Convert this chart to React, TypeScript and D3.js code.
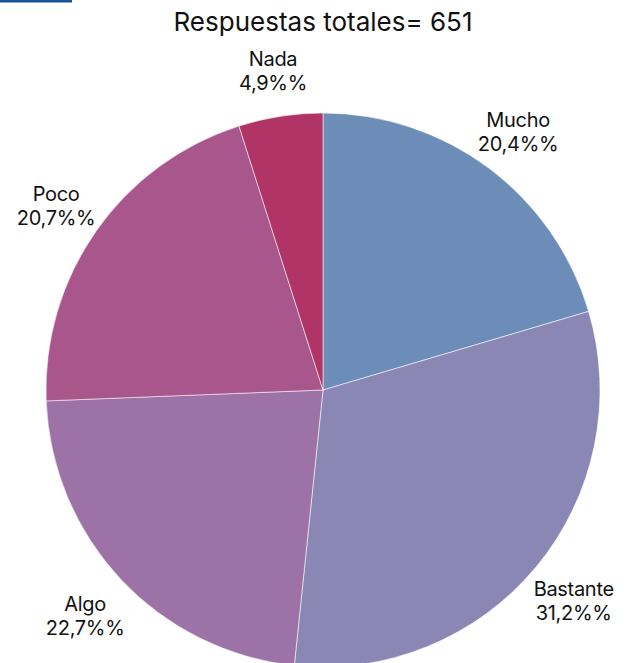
import React from "react";
import * as d3 from "d3";

const categories = ["Mucho", "Bastante", "Algo", "Poco", "Nada"];
const values = [20.4, 31.2, 22.7, 20.7, 4.9];
const labels = ["20,4%%", "31,2%%", "22,7%%", "20,7%%", "4,9%%"];
const colors = ["#6b8db7", "#8a87b5", "#9d73a7", "#a8568b", "#b03466"];
const title = "Respuestas totales= 651";

const W = 628;
const H = 663;
const cx = 323;
const cy = 390;
const R = 277;
const labelR = 326;

export default function App() {
  const pie = d3.pie<number>().sort(null).value((d) => d)(values);
  const arc = d3.arc<d3.PieArcDatum<number>>().innerRadius(0).outerRadius(R);
  const font = "Inter, 'DejaVu Sans', sans-serif";
  return (
    <svg
      width={W}
      height={H}
      style={{ position: "absolute", left: 0, top: 0, background: "#fff" }}
    >
      <rect x={0} y={0} width={72} height={2.5} fill="#1a4f9c" />
      <text
        x={cx}
        y={31}
        textAnchor="middle"
        fontFamily={font}
        fontSize={26}
        fill="#111"
      >
        {title}
      </text>
      <g transform={`translate(${cx},${cy})`}>
        {pie.map((p, i) => (
          <path
            key={i}
            d={arc(p) || ""}
            fill={colors[i]}
            stroke="#ffffff"
            strokeOpacity={0.55}
            strokeWidth={1}
          />
        ))}
        {pie.map((p, i) => {
          const a = (p.startAngle + p.endAngle) / 2;
          const x = labelR * Math.sin(a);
          const y = -labelR * Math.cos(a);
          return (
            <text
              key={"l" + i}
              x={x}
              y={y}
              textAnchor="middle"
              fontFamily={font}
              fontSize={20}
              letterSpacing={-0.3}
              fill="#111"
            >
              <tspan x={x} dy={-2}>
                {categories[i]}
              </tspan>
              <tspan x={x} dy={24}>
                {labels[i]}
              </tspan>
            </text>
          );
        })}
      </g>
    </svg>
  );
}
